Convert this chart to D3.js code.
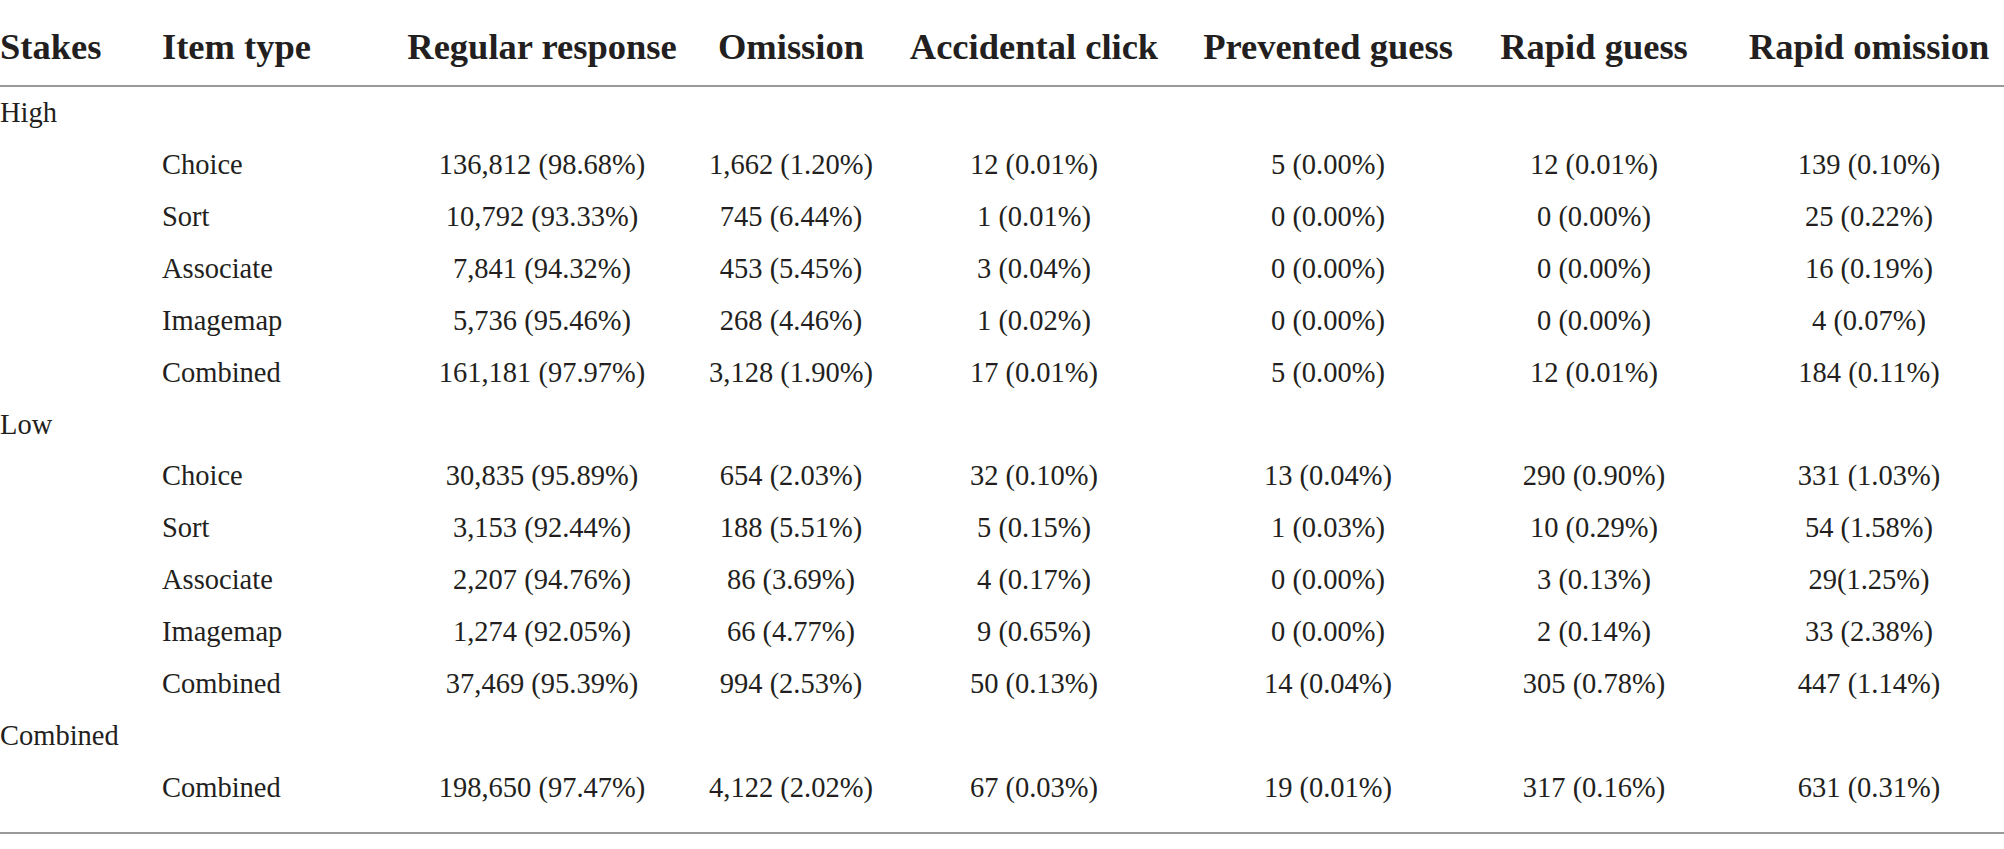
<!DOCTYPE html>
<html>
<head>
<meta charset="utf-8">
<script src="https://cdn.jsdelivr.net/npm/d3@7"></script>
<style>
  body { margin: 0; background: #fff; }
  svg { display: block; }
  text { font-family: "Liberation Serif", "DejaVu Serif", serif; fill: #231f20; }
</style>
</head>
<body>
<svg id="table"></svg>
<script>
const WIDTH = 2004, HEIGHT = 849;

// header / column labels
const columns = ["Regular response", "Omission", "Accidental click", "Prevented guess", "Rapid guess", "Rapid omission"];
const stakes = ["High", "Low", "Combined"];
const highItems = ["Choice", "Sort", "Associate", "Imagemap", "Combined"];
const lowItems = ["Choice", "Sort", "Associate", "Imagemap", "Combined"];
const combinedItems = ["Combined"];

// cell values, one row per item type
const highValues = [
  ["136,812 (98.68%)", "1,662 (1.20%)", "12 (0.01%)", "5 (0.00%)", "12 (0.01%)", "139 (0.10%)"],
  ["10,792 (93.33%)", "745 (6.44%)", "1 (0.01%)", "0 (0.00%)", "0 (0.00%)", "25 (0.22%)"],
  ["7,841 (94.32%)", "453 (5.45%)", "3 (0.04%)", "0 (0.00%)", "0 (0.00%)", "16 (0.19%)"],
  ["5,736 (95.46%)", "268 (4.46%)", "1 (0.02%)", "0 (0.00%)", "0 (0.00%)", "4 (0.07%)"],
  ["161,181 (97.97%)", "3,128 (1.90%)", "17 (0.01%)", "5 (0.00%)", "12 (0.01%)", "184 (0.11%)"]
];
const lowValues = [
  ["30,835 (95.89%)", "654 (2.03%)", "32 (0.10%)", "13 (0.04%)", "290 (0.90%)", "331 (1.03%)"],
  ["3,153 (92.44%)", "188 (5.51%)", "5 (0.15%)", "1 (0.03%)", "10 (0.29%)", "54 (1.58%)"],
  ["2,207 (94.76%)", "86 (3.69%)", "4 (0.17%)", "0 (0.00%)", "3 (0.13%)", "29(1.25%)"],
  ["1,274 (92.05%)", "66 (4.77%)", "9 (0.65%)", "0 (0.00%)", "2 (0.14%)", "33 (2.38%)"],
  ["37,469 (95.39%)", "994 (2.53%)", "50 (0.13%)", "14 (0.04%)", "305 (0.78%)", "447 (1.14%)"]
];
const combinedValues = [
  ["198,650 (97.47%)", "4,122 (2.02%)", "67 (0.03%)", "19 (0.01%)", "317 (0.16%)", "631 (0.31%)"]
];

// flatten into table rows: a stakes label row then its item rows
const groups = [
  { name: stakes[0], items: highItems, values: highValues },
  { name: stakes[1], items: lowItems, values: lowValues },
  { name: stakes[2], items: combinedItems, values: combinedValues }
];
const rows = [];
groups.forEach(g => {
  rows.push({ stakes: g.name });
  g.items.forEach((it, i) => rows.push({ item: it, cells: g.values[i] }));
});

const svg = d3.select("#table").attr("width", WIDTH).attr("height", HEIGHT);

const x = d3.scaleOrdinal()
  .domain(columns)
  .range([542, 791, 1034, 1328, 1594, 1869]);
const y = d3.scalePoint()
  .domain(d3.range(rows.length))
  .range([112, 787]);

const HEADER_Y = 46, TOP_RULE = 86, BOTTOM_RULE = 833;
const STAKES_X = 0, ITEM_X = 162;

// header
const head = svg.append("g").attr("font-weight", "bold").attr("font-size", 36.5);
head.append("text").attr("x", STAKES_X).attr("y", HEADER_Y).attr("dy", "0.35em").text("Stakes");
head.append("text").attr("x", ITEM_X).attr("y", HEADER_Y).attr("dy", "0.35em").text("Item type");
head.selectAll(".col")
  .data(columns)
  .enter()
  .append("text")
  .attr("class", "col")
  .attr("x", d => x(d))
  .attr("y", HEADER_Y)
  .attr("dy", "0.35em")
  .attr("text-anchor", "middle")
  .text(d => d);

// rules
svg.selectAll(".rule")
  .data([TOP_RULE, BOTTOM_RULE])
  .enter()
  .append("line")
  .attr("class", "rule")
  .attr("x1", 0)
  .attr("x2", WIDTH)
  .attr("y1", d => d)
  .attr("y2", d => d)
  .attr("stroke", "#9a9a9a")
  .attr("stroke-width", 2);

// body
const body = svg.append("g").attr("font-size", 28.5);
const row = body.selectAll(".row")
  .data(rows)
  .enter()
  .append("g")
  .attr("class", "row")
  .attr("transform", (d, i) => `translate(0,${y(i)})`);

row.filter(d => d.stakes)
  .append("text")
  .attr("x", STAKES_X)
  .attr("dy", "0.35em")
  .text(d => d.stakes);

row.filter(d => d.item)
  .append("text")
  .attr("x", ITEM_X)
  .attr("dy", "0.35em")
  .text(d => d.item);

row.filter(d => d.cells)
  .selectAll(".cell")
  .data(d => d.cells.map((v, i) => ({ col: columns[i], v })))
  .enter()
  .append("text")
  .attr("class", "cell")
  .attr("x", d => x(d.col))
  .attr("dy", "0.35em")
  .attr("text-anchor", "middle")
  .text(d => d.v);
</script>
</body>
</html>
